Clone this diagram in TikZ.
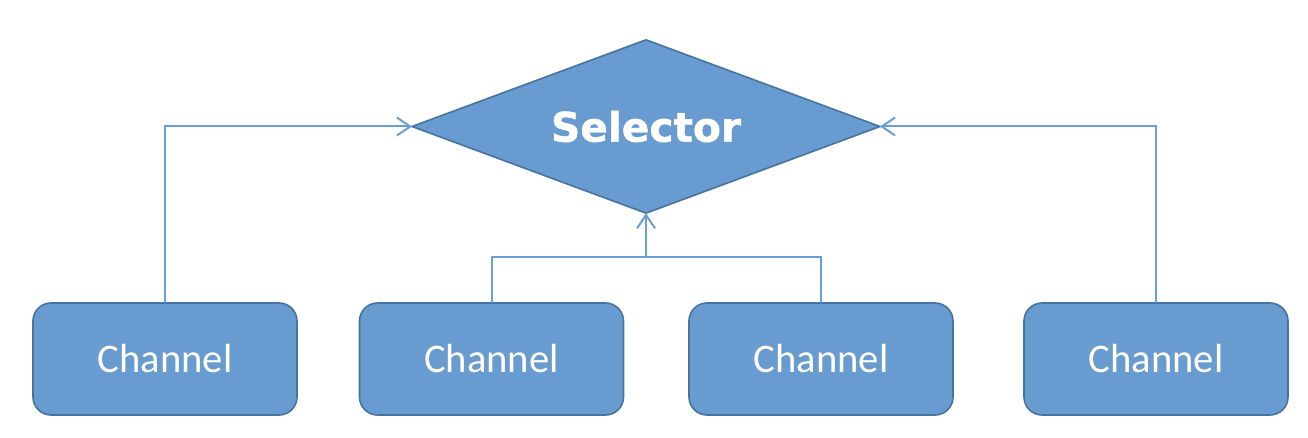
\documentclass[tikz,border=0pt]{standalone}
\usepackage{fontspec}
\usetikzlibrary{shapes.geometric,arrows.meta}
\newfontfamily\chanfont{Carlito}
\newfontfamily\selfont{DejaVu Sans}[BoldFeatures={FakeBold=1.2}]
\definecolor{boxfill}{RGB}{104,155,208}
\definecolor{boxedge}{RGB}{70,115,160}
\definecolor{linecol}{RGB}{105,158,214}
\tikzset{
  chanbox/.style={rectangle, rounded corners=13.5pt, draw=boxedge, line width=1.2pt,
    fill=boxfill, minimum width=198pt, minimum height=84pt, inner sep=0pt, outer sep=0pt,
    text=white, font=\chanfont\fontsize{30.5}{36}\selectfont},
  selbox/.style={diamond, aspect=2.7, draw=boxedge, line width=1.2pt, fill=boxfill,
    minimum width=351pt, minimum height=130pt, inner sep=0pt, outer sep=0pt,
    text=white, font=\selfont\bfseries\fontsize{30.5}{36}\selectfont},
  conn/.style={draw=linecol, line width=1.5pt},
  arr/.style={conn, -{Straight Barb[length=10pt,width=13.5pt,line width=1.5pt]}}
}
\begin{document}
\begin{tikzpicture}[x=0.75pt,y=-0.75pt]
\useasboundingbox (0,0) rectangle (1308,438);
\node[selbox] (sel) at (646,126.5) {Selector};
\node[chanbox] (c1) at (165,359) {Channel};
\node[chanbox] (c2) at (491.5,359) {Channel};
\node[chanbox] (c3) at (821,359) {Channel};
\node[chanbox] (c4) at (1156,359) {Channel};
\coordinate (j) at (646,257);
\draw[arr] (c1.north) |- (sel.west);
\draw[arr] (c4.north) |- (sel.east);
\draw[conn] (c2.north) |- (j) -| (c3.north);
\draw[arr] (j) -- (sel.south);
\end{tikzpicture}
\end{document}
